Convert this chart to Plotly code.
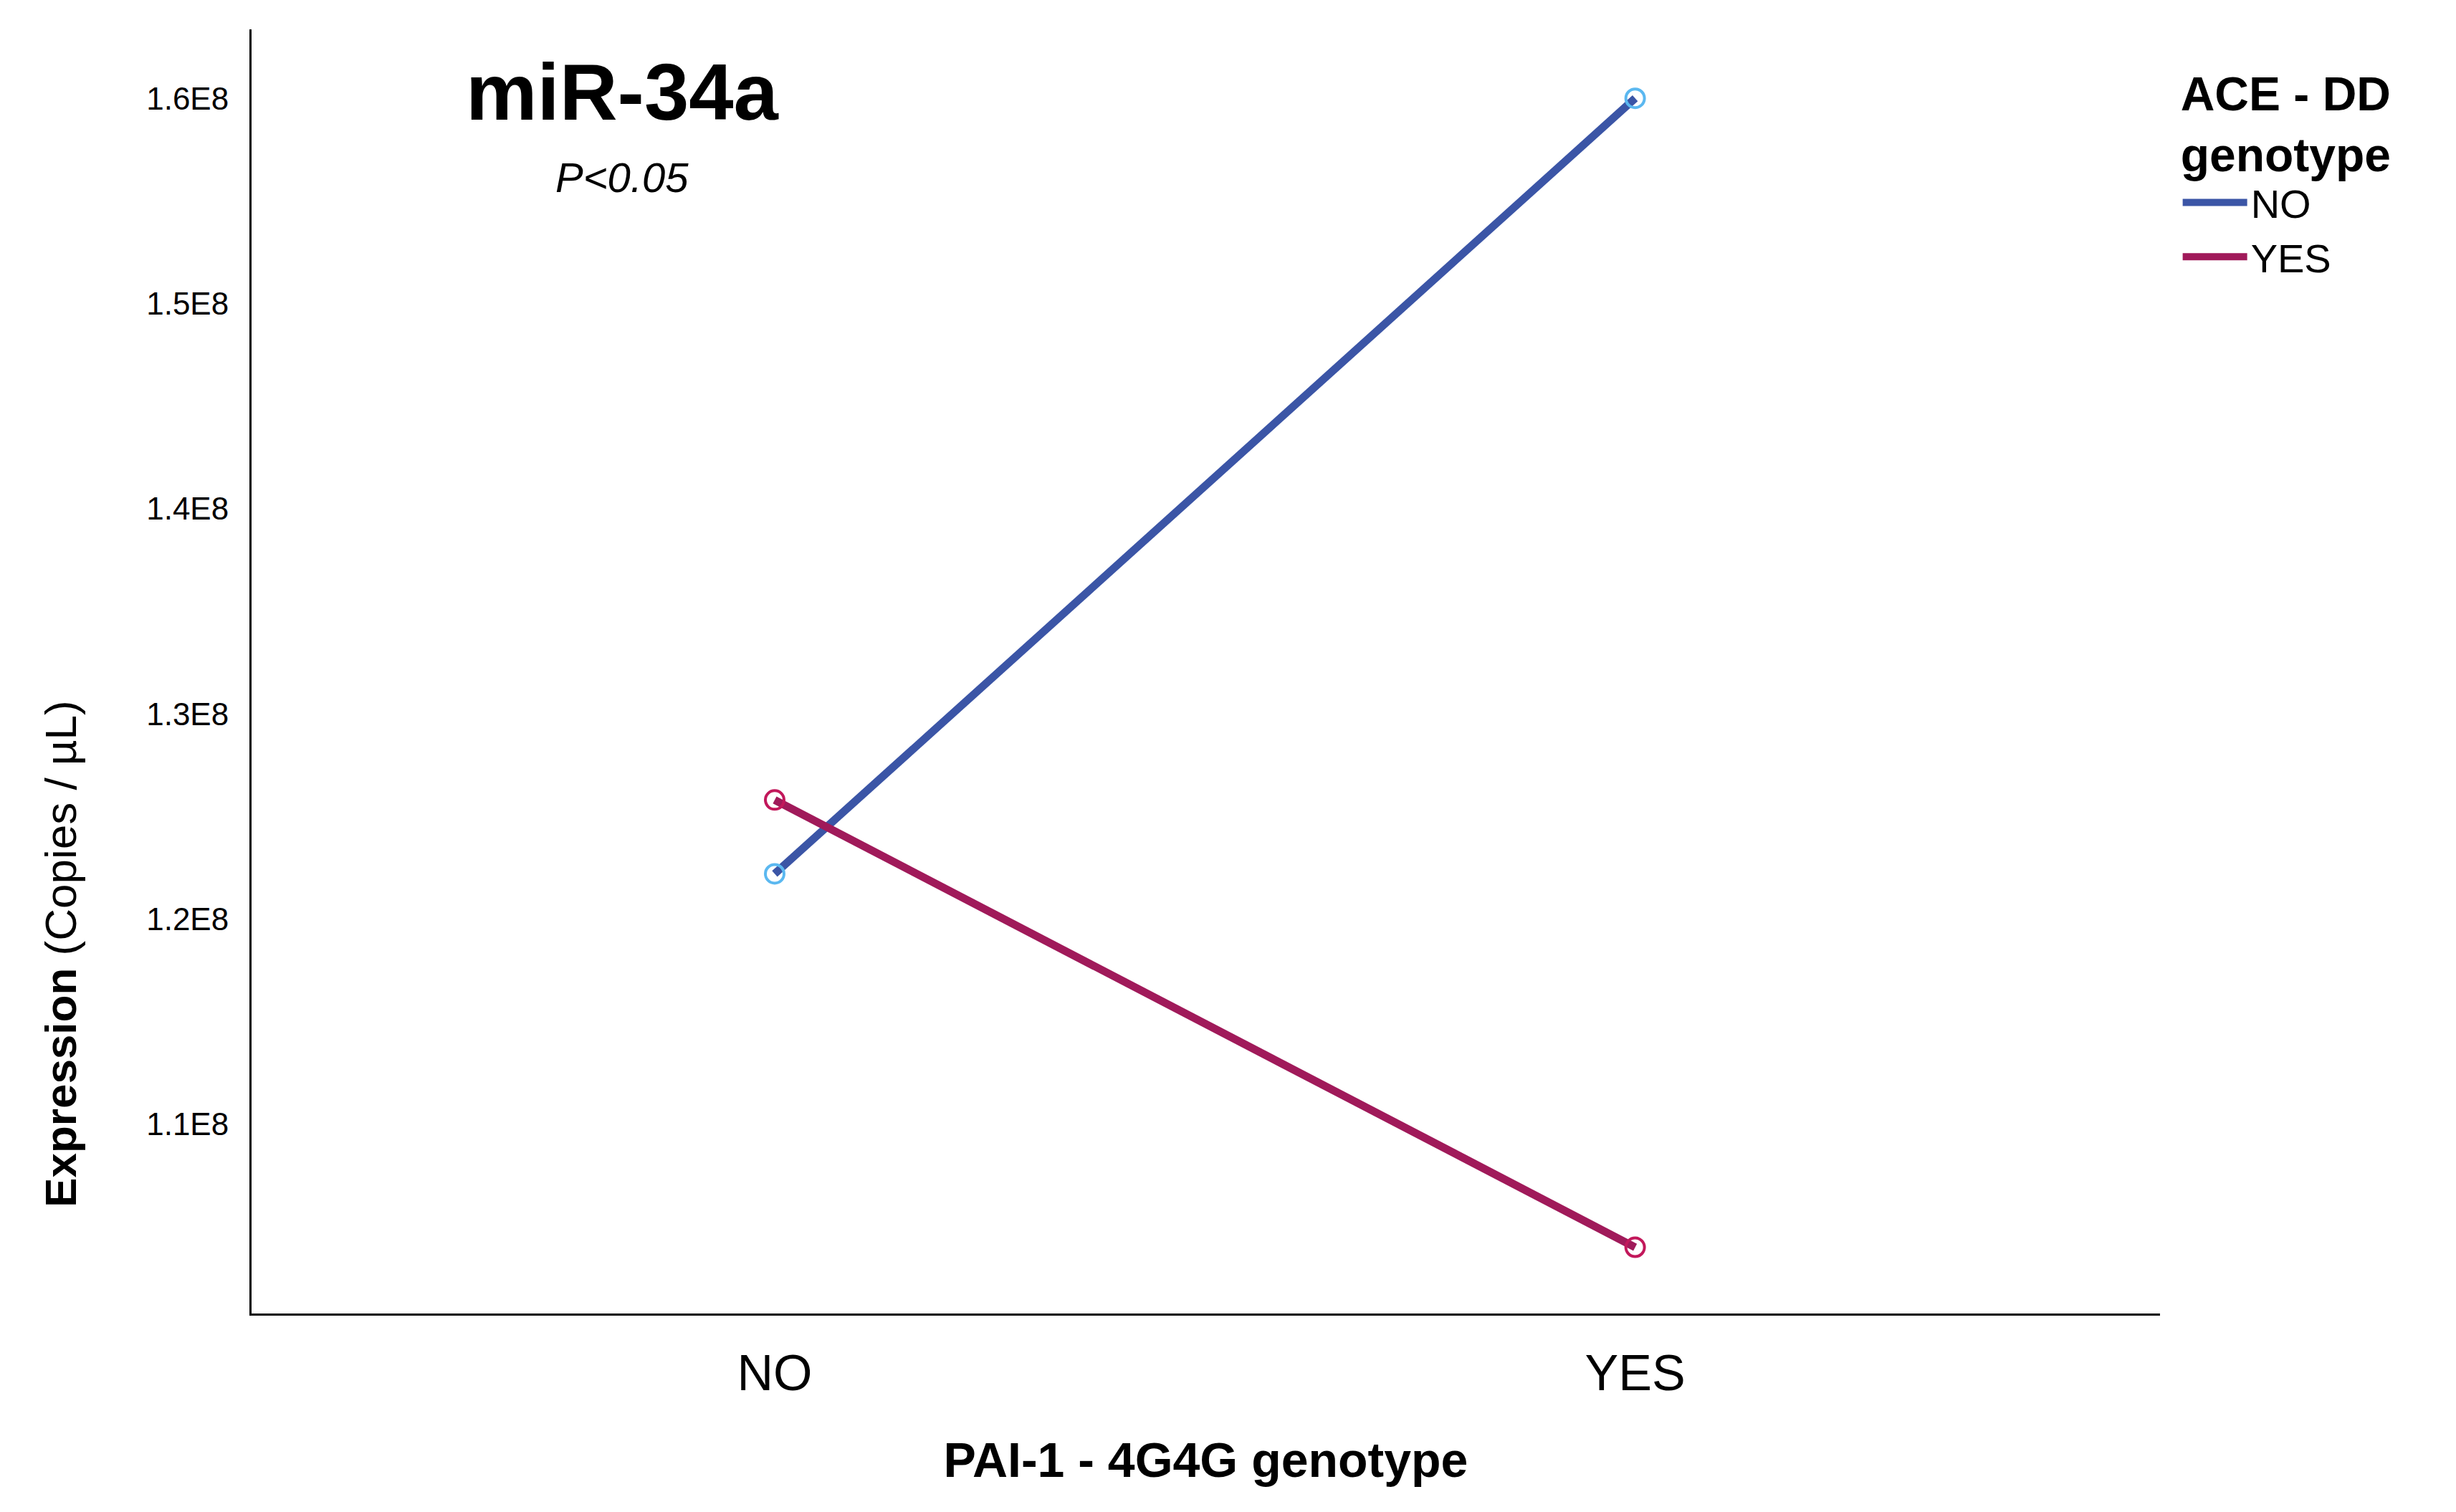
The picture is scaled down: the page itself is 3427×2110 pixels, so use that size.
import plotly.graph_objects as go

# data
categories = ["NO", "YES"]
ace_no = [1.222e8, 1.600e8]
ace_yes = [1.258e8, 1.040e8]
tick_vals = [1.1e8, 1.2e8, 1.3e8, 1.4e8, 1.5e8, 1.6e8]
tick_text = ["1.1E8", "1.2E8", "1.3E8", "1.4E8", "1.5E8", "1.6E8"]

font = "Liberation Sans"
blue, maroon = "#3B55A6", "#A01A5A"

fig = go.Figure()
fig.add_trace(go.Scatter(
    x=[0, 1], y=ace_no, mode="lines+markers", showlegend=False,
    line=dict(color=blue, width=11),
    marker=dict(symbol="circle-open", size=26, color="#5BB8F0", line=dict(width=4)),
))
fig.add_trace(go.Scatter(
    x=[0, 1], y=ace_yes, mode="lines+markers", showlegend=False,
    line=dict(color=maroon, width=11),
    marker=dict(symbol="circle-open", size=26, color="#C2185B", line=dict(width=4)),
))
# legend entries (lines only)
fig.add_trace(go.Scatter(x=[None], y=[None], name="NO", mode="lines",
                         line=dict(color=blue, width=11)))
fig.add_trace(go.Scatter(x=[None], y=[None], name="YES", mode="lines",
                         line=dict(color=maroon, width=11)))

fig.update_layout(
    width=3427, height=2110,
    margin=dict(l=343, r=421, t=33, b=285),
    plot_bgcolor="white", paper_bgcolor="white",
    font=dict(family=font, color="black"),
    legend=dict(
        title=dict(text="<b>ACE - DD<br>genotype</b>", font=dict(size=66)),
        font=dict(size=56), x=1.01, xanchor="left", y=0.985, yanchor="top",
        itemwidth=90, tracegroupgap=0,
    ),
    xaxis=dict(
        range=[-0.608, 1.61], tickvals=[0, 1], ticktext=categories,
        tickfont=dict(size=70), showline=True, linecolor="black", linewidth=3,
        showgrid=False, zeroline=False, ticks="", ticklabelstandoff=20,
        title=dict(text="<b>PAI-1 - 4G4G genotype</b>", font=dict(size=68), standoff=60),
    ),
    yaxis=dict(
        range=[1.0077e8, 1.6336e8], tickvals=tick_vals, ticktext=tick_text,
        tickfont=dict(size=44), showline=True, linecolor="black", linewidth=3,
        showgrid=False, zeroline=False, ticks="", ticklabelstandoff=20,
    ),
    annotations=[
        dict(text="<b>miR-34a</b>", x=0.194, y=0.951, xref="paper", yref="paper",
             xanchor="center", yanchor="middle",
             showarrow=False, font=dict(size=112, family=font)),
        dict(text="<i>P<0.05</i>", x=0.194, y=0.885, xref="paper", yref="paper",
             xanchor="center", yanchor="middle",
             showarrow=False, font=dict(size=58, family=font)),
        dict(text="<b>Expression</b> (Copies / µL)", x=-0.1, y=0.28,
             xref="paper", yref="paper", textangle=-90,
             xanchor="center", yanchor="middle",
             showarrow=False, font=dict(size=62, family=font)),
    ],
)

fig.write_html("out.html")
